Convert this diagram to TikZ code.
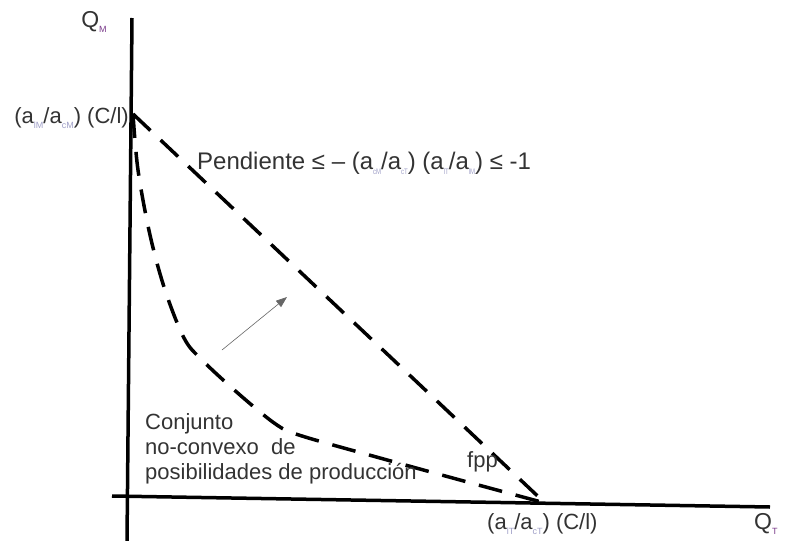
\documentclass[tikz,border=0pt]{standalone}
\usepackage{fontspec}
\setmainfont{Liberation Sans}
\usetikzlibrary{arrows.meta}
\definecolor{txt}{HTML}{333333}
\definecolor{subc}{HTML}{A0A0C8}
\definecolor{subq}{HTML}{7A3A8A}
\newcommand{\mysub}[2][subc]{\raisebox{-5pt}{\fontsize{9}{9}\selectfont\color{#1}#2}}
\newcommand{\nsub}[1]{\raisebox{-5pt}{\fontsize{8}{8}\selectfont\color{subc}\scalebox{0.75}[1]{#1}}}
\begin{document}
\begin{tikzpicture}[x=1pt,y=-1pt,
  axis/.style={line width=3.5pt,black},
  dashcurve/.style={line width=3.5pt,black,dash pattern=on 24pt off 14pt},
  lbl/.style={font=\fontsize{22}{26}\selectfont,text=txt,inner sep=0pt},
  arr/.style={line width=0.6pt,black!60,-{Triangle[length=11pt,width=8pt]}}]
\useasboundingbox (0,0) rectangle (788,541);
\fill[white] (0,0) rectangle (788,541);
% axes
\coordinate (ytop) at (132,18);
\coordinate (ybot) at (127,541);
\coordinate (xl) at (112,496);
\coordinate (xr) at (770,507);
\draw[axis] (ytop) -- (ybot);
\draw[axis] (xl) -- (xr);
% intercepts
\coordinate (A) at (133,114);
\coordinate (B) at (545,503);
\draw[dashcurve] (A) -- (B);
\draw[dashcurve] plot[smooth,tension=0.55] coordinates {(133,114) (138,170) (150,235) (165,290) (184,338) (202,360) (240,395) (277,425) (302,436) (380,458) (460,480) (545,503)};
% arrow
\coordinate (a1) at (222,350);
\coordinate (a2) at (287,297);
\draw[arr] (a1) -- (a2);
% labels
\node[lbl,font=\fontsize{23}{27}\selectfont] (qm) at (94,22) {Q\mysub[subq]{M}};
\node[lbl,anchor=east] (ya) at (129,118) {(a\mysub{lM}/a\mysub{cM}) (C/l)};
\node[lbl,anchor=west,font=\fontsize{24}{29}\selectfont] (pend) at (197,163) {Pendiente ≤ – (a\nsub{cM}/a\nsub{cT}) (a\nsub{lT}/a\nsub{lM}) ≤ -1};
\node[lbl,anchor=west,align=left] (conj) at (145,449) {Conjunto\\[-1pt]no-convexo\ \ de\\[-1pt]posibilidades de producción};
\node[lbl,anchor=west] (fpp) at (467,462) {fpp};
\node[lbl,anchor=west] (xa) at (487,524) {(a\mysub{lT}/a\mysub{cT}) (C/l)};
\node[lbl,anchor=west,font=\fontsize{23}{27}\selectfont] (qt) at (754,524) {Q\mysub[subq]{T}};
\end{tikzpicture}
\end{document}
